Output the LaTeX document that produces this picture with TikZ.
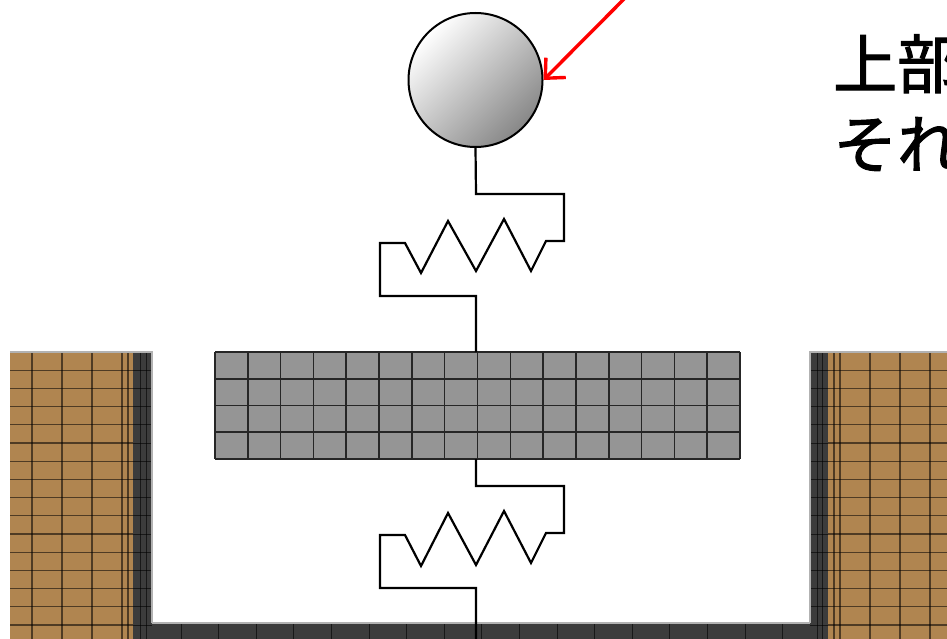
\documentclass[tikz,border=0pt]{standalone}
\usepackage{fontspec}
\newfontfamily\cjk[BoldFont={Noto Sans CJK JP},BoldFeatures={FakeBold=1.6}]{Noto Sans CJK JP}
\usetikzlibrary{arrows.meta}
\definecolor{soil}{HTML}{B08550}
\definecolor{steel}{HTML}{3C3C3C}
\definecolor{plategray}{HTML}{959595}
\tikzset{
  soilfill/.style={fill=soil},
  steelfill/.style={fill=steel},
  soilline/.style={draw=black, opacity=0.55, line width=1.3pt},
  steelline/.style={draw=black, opacity=0.6, line width=1pt},
  plateline/.style={draw=black!85, line width=1.6pt},
  springline/.style={draw=black, line width=2.2pt, line join=miter},
  edgeline/.style={draw=black!30, line width=1.2pt},
  caption/.style={anchor=base west, inner sep=0pt, font=\cjk\bfseries\fontsize{64}{80}\selectfont},
}
\begin{document}
\begin{tikzpicture}[x=1pt, y=-1pt]
\useasboundingbox (0,0) rectangle (947,639);
\clip (0,0) rectangle (947,639);

% ---- retaining walls ----
\fill[soilfill] (10,352) rectangle (133,639);
\fill[steelfill] (133,352) rectangle (152,639);
\fill[soilfill] (828,352) rectangle (947,639);
\fill[steelfill] (810,352) rectangle (828,639);
\foreach \x in {32,62,92,122,128,834,840,870,900,930}
  \draw[soilline] (\x,352) -- (\x,639);
\foreach \x in {140,146,817,822}
  \draw[steelline] (\x,352) -- (\x,639);
\foreach \i in {1,...,16} {
  \draw[soilline] (10,352+18.2*\i) -- (133,352+18.2*\i);
  \draw[steelline] (133,352+18.2*\i) -- (152,352+18.2*\i);
  \draw[steelline] (810,352+18.2*\i) -- (828,352+18.2*\i);
  \draw[soilline] (828,352+18.2*\i) -- (947,352+18.2*\i);
}
\draw[edgeline] (10,352) -- (152,352) -- (152,623);
\draw[edgeline] (810,623) -- (810,352) -- (947,352);

% ---- base slab ----
\fill[steelfill] (152,623) rectangle (810,639);
\foreach \k in {0,...,16}
  \draw[steelline] (181+37.6*\k,623) -- (181+37.6*\k,639);
\draw[edgeline] (152,623) -- (810,623);

% ---- plate (16 x 4 mesh) ----
\fill[plategray] (215,352) rectangle (740,459);
\foreach \k in {0,...,16}
  \draw[plateline] (215+32.8125*\k,352) -- (215+32.8125*\k,459);
\foreach \k in {0,...,4}
  \draw[plateline] (215,352+26.75*\k) -- (740,352+26.75*\k);

% ---- ball ----
\shade[shading=axis, top color=white, bottom color=black!47, shading angle=45]
  (475.5,80) circle[radius=67];
\node[circle, draw=black, line width=2pt, minimum size=134pt, inner sep=0pt]
  (ball) at (475.5,80) {};

% ---- connection points ----
\coordinate (plateTop) at (476,352);
\coordinate (plateBot) at (476,459);
\coordinate (ground) at (476,639);

% ---- upper spring ----
\draw[springline] (ball.south) -- (476,194) -- (564,194) -- (564,241) -- (546,241)
  -- (531,271) -- (504,219) -- (476,271) -- (448,221) -- (421,273) -- (405,243)
  -- (380,243) -- (380,296) -- (476,296) -- (plateTop);

% ---- lower spring ----
\draw[springline] (plateBot) -- (476,486) -- (564,486) -- (564,533) -- (546,533)
  -- (531,563) -- (504,511) -- (476,565) -- (448,513) -- (421,566) -- (405,535)
  -- (380,535) -- (380,588) -- (476,588) -- (ground);

% ---- pointer ----
\coordinate (arrowStart) at (632,-9);
\draw[red, line width=3.4pt, line cap=round,
      -{Straight Barb[length=15pt, width=28pt, line width=3.4pt]}]
  (arrowStart) -- (ball.east);

% ---- caption ----
\node[caption] (line1) at (833,88) {上部};
\node[caption] (line2) at (833,168) {それ};
\end{tikzpicture}
\end{document}
